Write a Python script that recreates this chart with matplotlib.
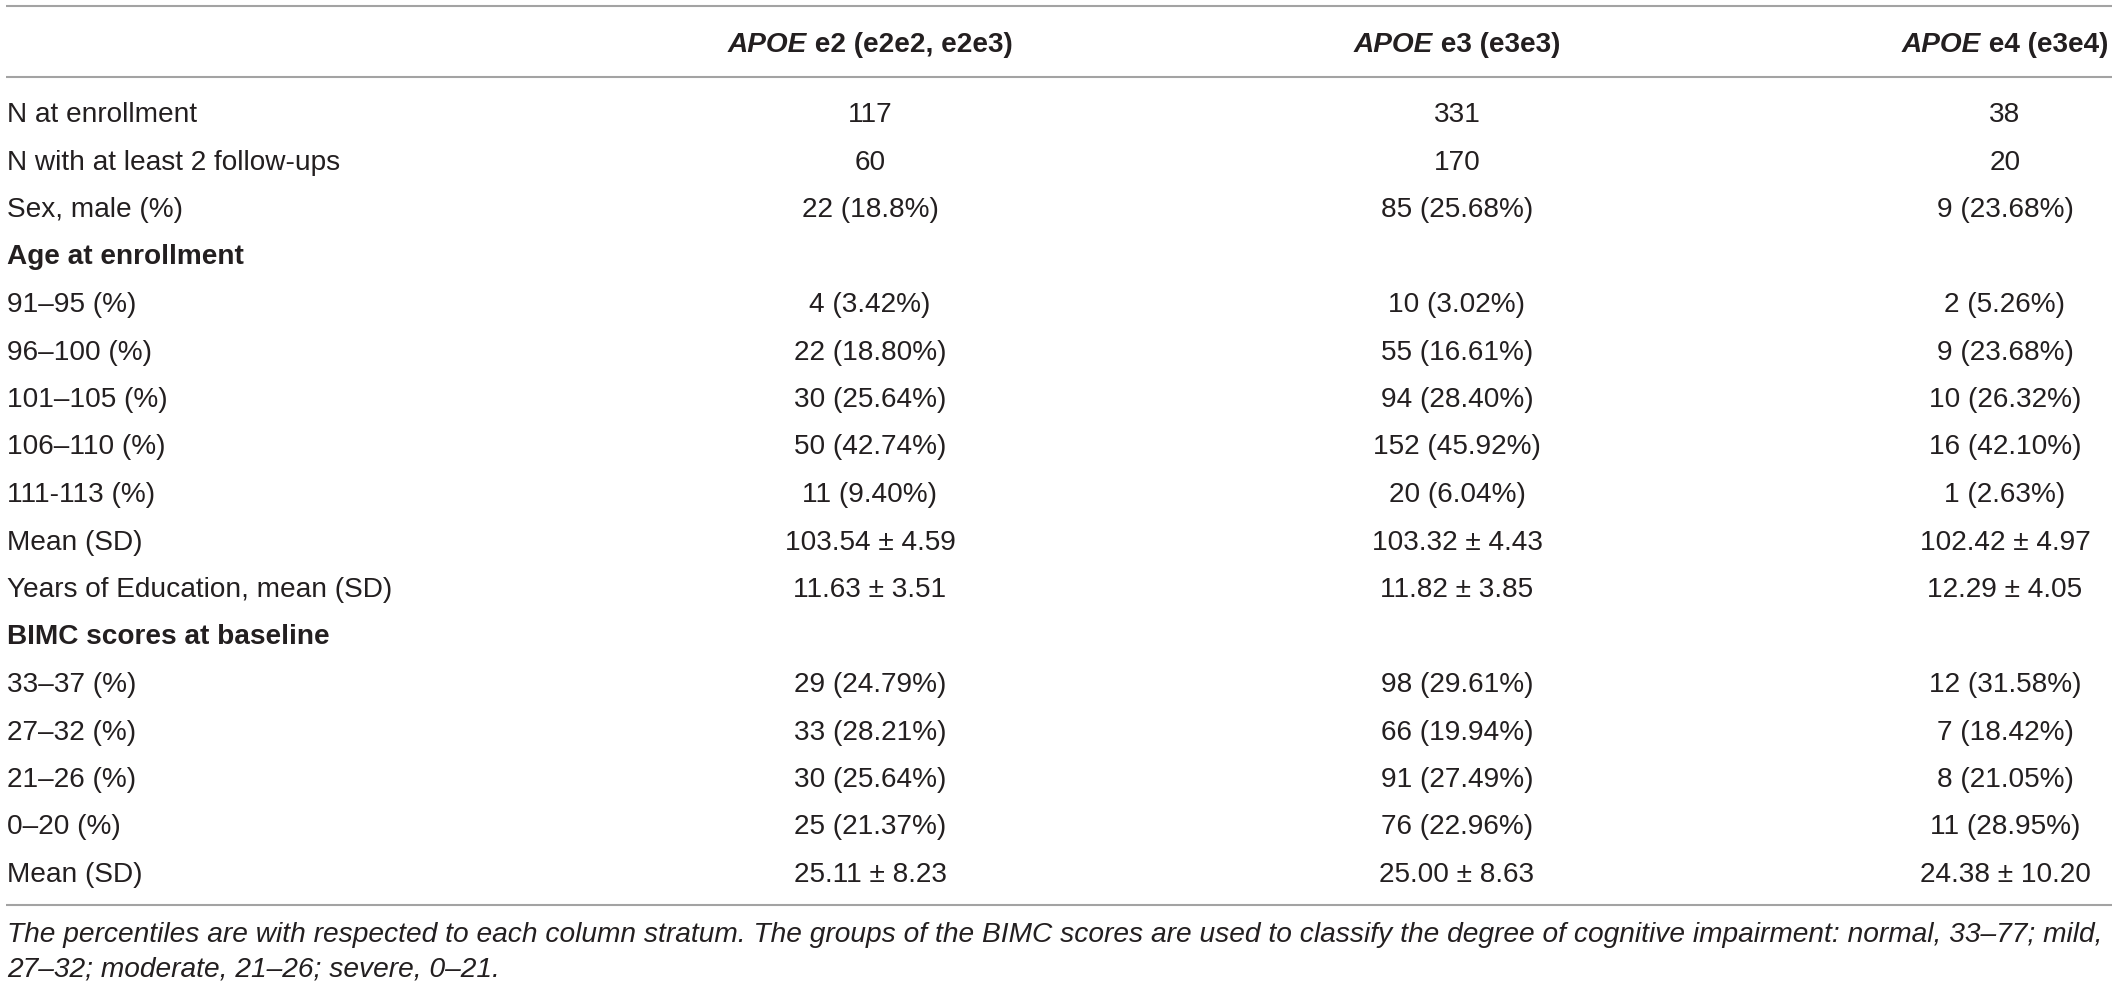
import matplotlib
matplotlib.use("Agg")
import matplotlib.pyplot as plt

# ---------------- data ----------------
header_italic = ["APOE", "APOE", "APOE"]
header_rest = [" e2 (e2e2, e2e3)", " e3 (e3e3)", " e4 (e3e4)"]

row_labels = [
    "N at enrollment",
    "N with at least 2 follow-ups",
    "Sex, male (%)",
    "Age at enrollment",
    "91\u201395 (%)",
    "96\u2013100 (%)",
    "101\u2013105 (%)",
    "106\u2013110 (%)",
    "111-113 (%)",
    "Mean (SD)",
    "Years of Education, mean (SD)",
    "BIMC scores at baseline",
    "33\u201337 (%)",
    "27\u201332 (%)",
    "21\u201326 (%)",
    "0\u201320 (%)",
    "Mean (SD)",
]
bold_rows = ["Age at enrollment", "BIMC scores at baseline"]

e2_values = ["117", "60", "22 (18.8%)", "", "4 (3.42%)", "22 (18.80%)", "30 (25.64%)",
             "50 (42.74%)", "11 (9.40%)", "103.54 \u00b1 4.59", "11.63 \u00b1 3.51", "",
             "29 (24.79%)", "33 (28.21%)", "30 (25.64%)", "25 (21.37%)", "25.11 \u00b1 8.23"]
e3_values = ["331", "170", "85 (25.68%)", "", "10 (3.02%)", "55 (16.61%)", "94 (28.40%)",
             "152 (45.92%)", "20 (6.04%)", "103.32 \u00b1 4.43", "11.82 \u00b1 3.85", "",
             "98 (29.61%)", "66 (19.94%)", "91 (27.49%)", "76 (22.96%)", "25.00 \u00b1 8.63"]
e4_values = ["38", "20", "9 (23.68%)", "", "2 (5.26%)", "9 (23.68%)", "10 (26.32%)",
             "16 (42.10%)", "1 (2.63%)", "102.42 \u00b1 4.97", "12.29 \u00b1 4.05", "",
             "12 (31.58%)", "7 (18.42%)", "8 (21.05%)", "11 (28.95%)", "24.38 \u00b1 10.20"]

footnote_lines = [
    "The percentiles are with respected to each column stratum. The groups of the BIMC scores "
    "are used to classify the degree of cognitive impairment: normal, 33\u201377; mild,",
    "27\u201332; moderate, 21\u201326; severe, 0\u201321.",
]

# ---------------- layout ----------------
W, H, DPI = 2118, 989, 100
PT = 72.0 / DPI                      # points per pixel
FONT = "Liberation Sans"
TXT = "#231f20"
RULE = "#a3a3a3"

body_size = 28 * PT
left_x = 7
right_x = 2112
col_x = [870, 1457, 2005]
header_baseline = 52
row0_baseline = 122
row_step = 47.5
rules_y = [6, 77, 905]
foot_baselines = [942, 977]
foot_width = 2101

fig = plt.figure(figsize=(W / DPI, H / DPI), dpi=DPI)
ax = fig.add_axes([0, 0, 1, 1])
ax.set_xlim(0, W)
ax.set_ylim(H, 0)
ax.axis("off")
renderer = fig.canvas.get_renderer()

for y in rules_y:
    ax.plot([left_x - 1, right_x], [y, y], color=RULE, lw=1.5, solid_capstyle="butt")

def width_px(t):
    return t.get_window_extent(renderer=renderer).width

# header
for cx, it, rest in zip(col_x, header_italic, header_rest):
    t1 = ax.text(0, header_baseline, it, fontsize=body_size, family=FONT, weight="bold",
                 style="italic", color=TXT, va="baseline", ha="left")
    t2 = ax.text(0, header_baseline, rest, fontsize=body_size, family=FONT, weight="bold",
                 color=TXT, va="baseline", ha="left")
    w1, w2 = width_px(t1), width_px(t2)
    x0 = cx - (w1 + w2) / 2
    t1.set_x(x0)
    t2.set_x(x0 + w1)

# body
for i, lab in enumerate(row_labels):
    yb = row0_baseline + i * row_step
    ax.text(left_x, yb, lab, fontsize=body_size, family=FONT,
            weight="bold" if lab in bold_rows else "normal",
            color=TXT, va="baseline", ha="left")
    for cx, vals in zip(col_x, [e2_values, e3_values, e4_values]):
        if vals[i]:
            ax.text(cx, yb, vals[i], fontsize=body_size, family=FONT, color=TXT,
                    va="baseline", ha="center")

# footnote (fit first line to the table width)
probe = ax.text(left_x, foot_baselines[0], footnote_lines[0], fontsize=body_size,
                family=FONT, style="italic", color=TXT, va="baseline", ha="left")
foot_size = body_size * foot_width / width_px(probe)
probe.set_fontsize(foot_size)
ax.text(left_x, foot_baselines[1], footnote_lines[1], fontsize=foot_size,
        family=FONT, style="italic", color=TXT, va="baseline", ha="left")

fig.savefig("out.png", dpi=DPI)
